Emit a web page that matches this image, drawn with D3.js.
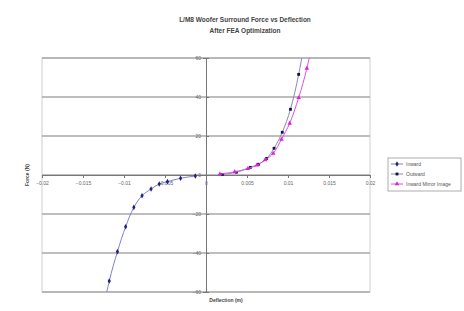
<!DOCTYPE html>
<html>
<head>
<meta charset="utf-8">
<script src="https://cdn.jsdelivr.net/npm/d3@7"></script>
<style>
  body { margin: 0; background: #fff; }
  svg { display: block; font-family: Arial, "Liberation Sans", sans-serif; }
</style>
</head>
<body>
<div id="chart"></div>
<script>
'use strict';

// chart values
var inwardX = [-0.0013, -0.0031, -0.0047, -0.0057, -0.0067, -0.0078, -0.0088, -0.0098, -0.0108, -0.0118, -0.0128];
var inwardY = [-0.5, -1.7, -3.4, -4.6, -7.2, -10.6, -16.6, -26.5, -39.3, -54.4, -75];
var outwardX = [0.0020, 0.0037, 0.0054, 0.0064, 0.0074, 0.0083, 0.0093, 0.0103, 0.0113, 0.0123];
var outwardY = [0.3, 1.4, 3.9, 5.5, 8.5, 13.7, 21.9, 33.7, 51.6, 75];
var mirrorX = [0.0017, 0.0035, 0.0051, 0.0062, 0.0072, 0.0082, 0.0092, 0.0102, 0.0113, 0.0123, 0.0133];
var mirrorY = [0.5, 1.6, 3.3, 5.0, 7.7, 11.1, 18.3, 26.5, 39.6, 54.7, 75];

var xTicks = [-0.02, -0.015, -0.01, -0.005, 0, 0.005, 0.01, 0.015, 0.02];
var yTicks = [-60, -40, -20, 0, 20, 40, 60];
var seriesNames = ["Inward", "Outward", "Inward Mirror Image"];

var width = 464, height = 311;

var svg = d3.select('#chart').append('svg')
    .attr('width', width)
    .attr('height', height);

var x = d3.scaleLinear().domain([-0.02, 0.02]).range([42, 370]);
var y = d3.scaleLinear().domain([-60, 60]).range([292, 58]);

// plot area
svg.append('rect')
    .attr('x', x(-0.02)).attr('y', y(60))
    .attr('width', x(0.02) - x(-0.02)).attr('height', y(-60) - y(60))
    .attr('fill', '#fff').attr('stroke', '#d0d0d0').attr('stroke-width', 1);

// horizontal gridlines
svg.append('g').selectAll('line')
    .data(yTicks)
    .enter().append('line')
    .attr('x1', x(-0.02)).attr('x2', x(0.02))
    .attr('y1', function(d) { return y(d); })
    .attr('y2', function(d) { return y(d); })
    .attr('stroke', '#a8a8a8').attr('stroke-width', 1.6);

// x axis through y = 0
var xAxis = svg.append('g')
    .attr('transform', 'translate(0,' + y(0) + ')')
    .call(d3.axisBottom(x).tickValues(xTicks).tickSize(3)
        .tickFormat(function(d) { return d3.format('')(+d.toFixed(3)); }));
xAxis.select('.domain').attr('stroke', '#777');
xAxis.selectAll('.tick line').attr('stroke', '#777');
xAxis.selectAll('.tick text').attr('font-size', 5).attr('fill', '#666').attr('dy', 4);

// y axis through x = 0
var yAxis = svg.append('g')
    .attr('transform', 'translate(' + x(0) + ',0)')
    .call(d3.axisLeft(y).tickValues(yTicks).tickSize(3).tickPadding(2));
yAxis.selectAll('.tick line').attr('x2', 3);
yAxis.select('.domain').attr('stroke', '#777');
yAxis.selectAll('.tick line').attr('stroke', '#777');
yAxis.selectAll('.tick text').attr('font-size', 5).attr('fill', '#666');

// series
svg.append('clipPath').attr('id', 'plotClip')
    .append('rect')
    .attr('x', x(-0.02)).attr('y', y(60))
    .attr('width', x(0.02) - x(-0.02)).attr('height', y(-60) - y(60));

function pairs(xs, ys) {
    return xs.map(function(v, i) { return [v, ys[i]]; });
}

var series = [
    { name: seriesNames[0], data: pairs(inwardX, inwardY), line: '#8080cc', mark: '#202080', symbol: d3.symbolDiamond, size: 9 },
    { name: seriesNames[1], data: pairs(outwardX, outwardY), line: '#8a8aa8', mark: '#101050', symbol: d3.symbolSquare, size: 8 },
    { name: seriesNames[2], data: pairs(mirrorX, mirrorY), line: '#e050e0', mark: '#e020e0', symbol: d3.symbolTriangle, size: 9 }
];

var lineGen = d3.line()
    .x(function(d) { return x(d[0]); })
    .y(function(d) { return y(d[1]); })
    .curve(d3.curveCatmullRom);

var plot = svg.append('g').attr('clip-path', 'url(#plotClip)');

series.forEach(function(s) {
    plot.append('path')
        .attr('d', lineGen(s.data))
        .attr('fill', 'none')
        .attr('stroke', s.line)
        .attr('stroke-width', 1);
    plot.selectAll(null)
        .data(s.data)
        .enter().append('path')
        .attr('d', d3.symbol().type(s.symbol).size(s.size))
        .attr('transform', function(d) { return 'translate(' + x(d[0]) + ',' + y(d[1]) + ')'; })
        .attr('fill', s.mark);
});

// titles
var title = svg.append('text')
    .attr('x', 245).attr('y', 22)
    .attr('text-anchor', 'middle')
    .attr('font-size', 6.5).attr('font-weight', 'bold').attr('fill', '#444');
title.append('tspan').attr('x', 245).text('L/M8 Woofer Surround Force vs Deflection');
title.append('tspan').attr('x', 245).attr('dy', 11).text('After FEA Optimization');

svg.append('text')
    .attr('transform', 'translate(29,' + y(0) + ') rotate(-90)')
    .attr('text-anchor', 'middle')
    .attr('font-size', 5).attr('font-weight', 'bold').attr('fill', '#444')
    .text('Force (N)');

svg.append('text')
    .attr('x', 226).attr('y', 302)
    .attr('text-anchor', 'middle')
    .attr('font-size', 5).attr('font-weight', 'bold').attr('fill', '#444')
    .text('Deflection (m)');

// legend
var legend = svg.append('g').attr('transform', 'translate(388,158)');
legend.append('rect')
    .attr('width', 73).attr('height', 33)
    .attr('fill', '#fff').attr('stroke', '#999').attr('stroke-width', 0.8);

var item = legend.selectAll('g.item')
    .data(series)
    .enter().append('g')
    .attr('class', 'item')
    .attr('transform', function(d, i) { return 'translate(0,' + (6 + i * 10) + ')'; });

item.append('line')
    .attr('x1', 3).attr('x2', 15)
    .attr('stroke', function(d) { return d.line; });
item.append('path')
    .attr('d', function(d) { return d3.symbol().type(d.symbol).size(d.size)(); })
    .attr('transform', 'translate(9,0)')
    .attr('fill', function(d) { return d.mark; });
item.append('text')
    .attr('x', 18).attr('dy', '0.35em')
    .attr('font-size', 5).attr('fill', '#555')
    .text(function(d) { return d.name; });
</script>
</body>
</html>
